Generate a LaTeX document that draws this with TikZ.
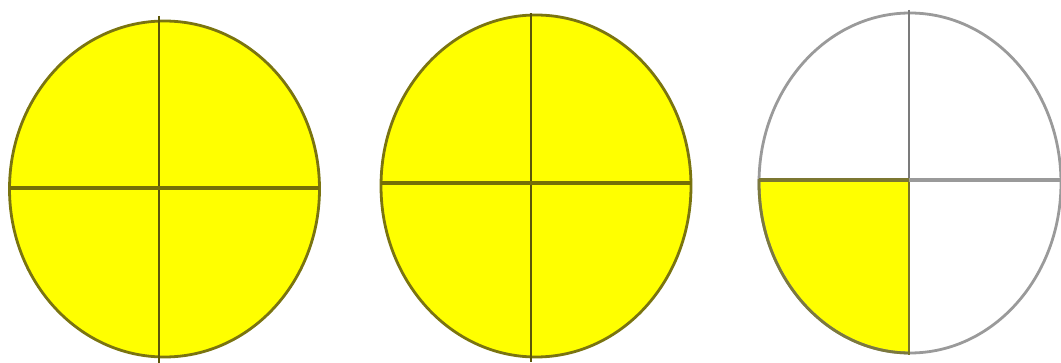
\documentclass[tikz,border=0pt]{standalone}
\begin{document}
\begin{tikzpicture}[x=1pt,y=-1pt,
  rim/.style={line width=2.8pt,draw=olivedark},
  cross/.style={line width=2.4pt,draw=olivecross},
  greyrim/.style={line width=2.8pt,draw=greyline},
  greycross/.style={line width=2.4pt,draw=greyline!80!black}]
\definecolor{olivedark}{HTML}{7A7410}
\definecolor{olivecross}{HTML}{5C5608}
\definecolor{greyline}{HTML}{9A9A9A}
\definecolor{sun}{HTML}{FFFF00}
\useasboundingbox (0,0) rectangle (1061,363);
% first
\fill[sun] (164.5,189) ellipse [x radius=155, y radius=168];
\draw[rim] (164.5,189) ellipse [x radius=155, y radius=168];
\draw[cross] (159,16) -- (159,363);
\draw[olivecross!85!yellow,line width=4.8pt] (10,188) -- (319,188);
% second
\fill[sun] (536,186) ellipse [x radius=155, y radius=171];
\draw[rim] (536,186) ellipse [x radius=155, y radius=171];
\draw[cross] (531,13) -- (531,362);
\draw[olivecross!85!yellow,line width=3.8pt] (381,183) -- (691,183);
% third
\begin{scope}
\clip (910,183) ellipse [x radius=151, y radius=170];
\fill[sun] (750,180) rectangle (909,360);
\end{scope}
\draw[greyrim] (910,183) ellipse [x radius=151, y radius=170];
\begin{scope}
\clip (750,180) rectangle (909,360);
\draw[rim,draw=olivedark!60!gray] (910,183) ellipse [x radius=151, y radius=170];
\end{scope}
\draw[greycross] (909,10) -- (909,180);
\draw[cross,draw=olivedark!80!gray] (909,180) -- (909,355);
\draw[greyline,line width=3.8pt] (909,180) -- (1061,180);
\draw[olivedark!70!gray,line width=3.8pt] (759,180) -- (909,180);
\end{tikzpicture}
\end{document}
